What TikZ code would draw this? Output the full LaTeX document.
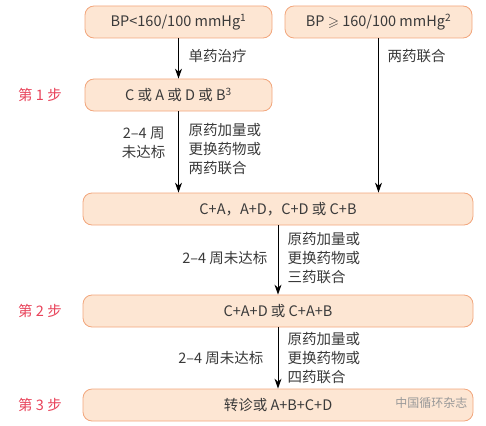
\documentclass[tikz,border=0pt]{standalone}
\usepackage{fontspec}
\usepackage{amssymb}
\setmainfont{Noto Sans CJK SC}
\usetikzlibrary{positioning,arrows.meta}
\definecolor{boxfill}{HTML}{FDE6D3}
\definecolor{boxline}{HTML}{F2A67C}
\definecolor{steptext}{HTML}{E8435A}
\definecolor{bodytext}{HTML}{3A3A3A}
\tikzset{
  box/.style={draw=boxline, fill=boxfill, rounded corners=9pt, minimum height=32pt, line width=0.8pt, text=bodytext},
  smallbox/.style={box, minimum width=187pt},
  widebox/.style={box, minimum width=390pt},
  steplabel/.style={text=steptext},
  note/.style={text=bodytext, align=left, font=\fontsize{14.5}{19}\selectfont},
}
\begin{document}
\begin{tikzpicture}[x=1pt,y=-1pt,>={Stealth[length=10pt,width=7pt]},font=\fontsize{14.5}{17}\selectfont]
   \useasboundingbox (0,0) rectangle (486,425);
   % 方框
   \node[smallbox] (bplow) at (178.5,22) {BP<160/100 mmHg\textsuperscript{1}};
   \node[smallbox] (bphigh) at (378.5,22) {BP $\geqslant$ 160/100 mmHg\textsuperscript{2}};
   \node[smallbox] (stepone) at (178.5,95) {C 或 A 或 D 或 B\textsuperscript{3}};
   \node[widebox] (twodrug) at (278,209) {C+A，A+D，C+D 或 C+B};
   \node[widebox] (steptwo) at (278,311) {C+A+D 或 C+A+B};
   \node[widebox] (stepthree) at (278,405) {转诊或 A+B+C+D};

   % 步骤
   \node[steplabel] (lblone) at (40,95) {第 1 步};
   \node[steplabel] (lbltwo) at (40,311) {第 2 步};
   \node[steplabel] (lblthree) at (40,405) {第 3 步};

   % 箭头
   \draw[->,line width=1pt] (bplow) -- (stepone);
   \draw[->,line width=1pt] (bphigh) -- (bphigh |- twodrug.north);
   \draw[->,line width=1pt] (stepone) -- (stepone |- twodrug.north);
   \draw[->,line width=1pt] (twodrug) -- (steptwo);
   \draw[->,line width=1pt] (steptwo) -- (stepthree);

   % 说明
   \node[note,anchor=west] (monotxt) at (185,56) {单药治疗};
   \node[note,anchor=west] (duotxt) at (384,56) {两药联合};
   \node[note,anchor=east,align=center] (weekone) at (169,143) {2–4 周\\未达标};
   \node[note,anchor=west] (adjone) at (185,149) {原药加量或\\更换药物或\\两药联合};
   \node[note,anchor=east] (weektwo) at (271,258) {2–4 周未达标};
   \node[note,anchor=west] (adjtwo) at (284,258) {原药加量或\\更换药物或\\三药联合};
   \node[note,anchor=east] (weekthree) at (267,358) {2–4 周未达标};
   \node[note,anchor=west] (adjthree) at (284,358) {原药加量或\\更换药物或\\四药联合};

   \node[anchor=east,text=gray!80,font=\fontsize{12}{14}\selectfont] (mark) at (471,403) {中国循环杂志};
\end{tikzpicture}
\end{document}
